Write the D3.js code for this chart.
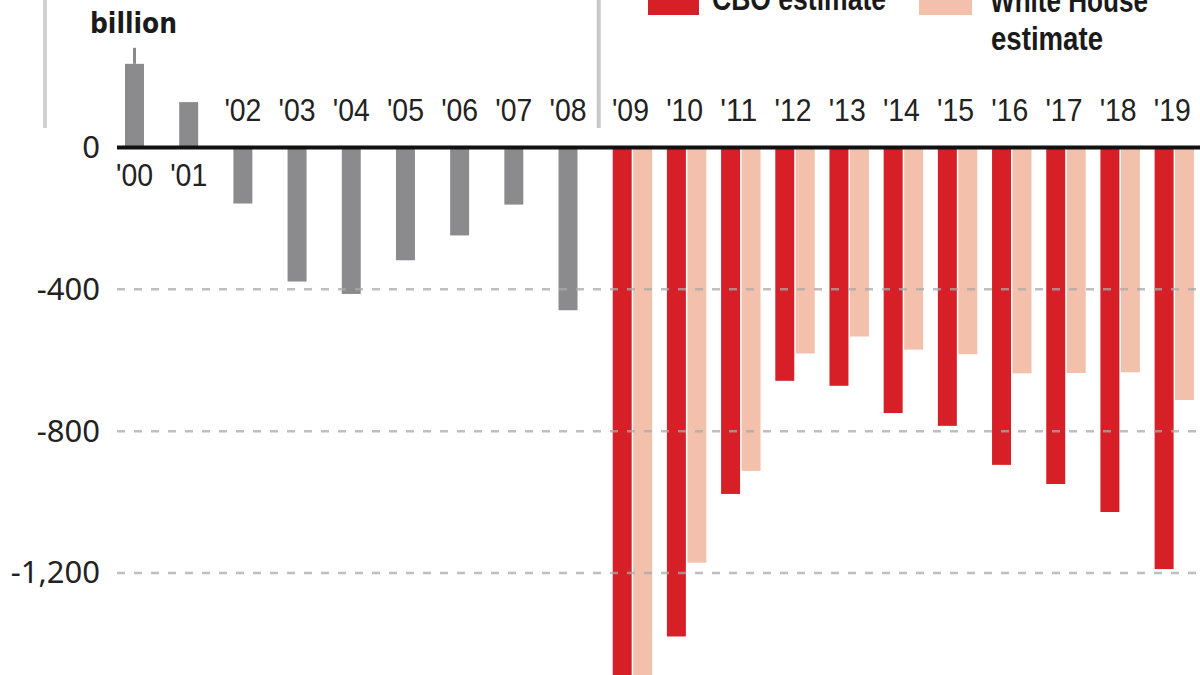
<!DOCTYPE html>
<html>
<head>
<meta charset="utf-8">
<script src="https://cdn.jsdelivr.net/npm/d3@7"></script>
<style>
  html, body { margin: 0; padding: 0; background: #fff; }
  svg { display: block; }
</style>
</head>
<body>
<div id="chart"></div>
<script>
// Budget balance, $ billion
const years = ["'00", "'01", "'02", "'03", "'04", "'05", "'06", "'07", "'08", "'09",
               "'10", "'11", "'12", "'13", "'14", "'15", "'16", "'17", "'18", "'19"];
const actualYears = years.slice(0, 9);
const actual = [236, 128, -158, -378, -413, -318, -248, -161, -459];
const estimateYears = years.slice(9);
const cboEstimate = [-1845, -1379, -977, -658, -672, -749, -785, -895, -949, -1028, -1189];
const whiteHouseEstimate = [-1752, -1171, -912, -581, -533, -570, -583, -637, -636, -634, -712];
const yTicks = [0, -400, -800, -1200];

const width = 1200;
const height = 675;

const colors = { actual: "#8b8b8d", cbo: "#d71f27", wh: "#f3c0ab" };
const narrow = "'Liberation Sans Narrow', 'Liberation Sans', Arial, sans-serif";

const svg = d3.select("#chart")
    .append("svg")
    .attr("width", width)
    .attr("height", height)
    .attr("viewBox", `0 0 ${width} ${height}`);

// Scales
const x = d3.scaleBand()
    .domain(years)
    .range([107.4, 1191.2])
    .paddingInner(0.65)
    .paddingOuter(0.325);

const bw = x.bandwidth();
const gap = 1.5;

const y = d3.scaleLinear()
    .domain([0, -1200])
    .range([147.5, 573]);

// Light vertical rules at the top
svg.append("line")
    .attr("x1", 45).attr("x2", 45)
    .attr("y1", 0).attr("y2", 128)
    .attr("stroke", "#d0d0d0")
    .attr("stroke-width", 4);

const divX = x("'09") - 14;
svg.append("line")
    .attr("x1", divX).attr("x2", divX)
    .attr("y1", 0).attr("y2", 128)
    .attr("stroke", "#c8c8c8")
    .attr("stroke-width", 4);

// Unit label
svg.append("text")
    .attr("x", 90)
    .attr("y", 33)
    .attr("textLength", 87)
    .attr("lengthAdjust", "spacingAndGlyphs")
    .style("font-family", "'DejaVu Sans', sans-serif")
    .style("font-weight", "bold")
    .style("font-size", "28px")
    .style("fill", "#1a1a1a")
    .text("billion");

// Legend
const legend = svg.append("g")
    .style("font-family", narrow)
    .style("font-weight", "bold")
    .style("font-size", "33px")
    .style("fill", "#1a1a1a");
legend.append("rect")
    .attr("x", 648).attr("y", -6)
    .attr("width", 51).attr("height", 21)
    .attr("fill", colors.cbo);
legend.append("text")
    .attr("x", 712).attr("y", 10)
    .attr("textLength", 174)
    .attr("lengthAdjust", "spacingAndGlyphs")
    .text("CBO estimate");
legend.append("rect")
    .attr("x", 919).attr("y", -6)
    .attr("width", 53).attr("height", 21)
    .attr("fill", colors.wh);
legend.append("text")
    .attr("x", 990).attr("y", 12)
    .attr("textLength", 158)
    .attr("lengthAdjust", "spacingAndGlyphs")
    .text("White House");
legend.append("text")
    .attr("x", 991).attr("y", 50)
    .attr("textLength", 112)
    .attr("lengthAdjust", "spacingAndGlyphs")
    .text("estimate");

// Y axis labels
const fmt = v => (v < 0 ? "-" : "") + d3.format(",")(Math.abs(v));
const yAxis = svg.append("g")
    .attr("transform", "translate(100,0)")
    .call(d3.axisLeft(y).tickValues(yTicks).tickSize(0).tickPadding(0).tickFormat(fmt));
yAxis.select(".domain").remove();
yAxis.selectAll("text")
    .style("font-family", "'Noto Sans', sans-serif")
    .style("font-size", "31px")
    .style("fill", "#222");

// Actual bars
svg.append("g")
    .selectAll("rect")
    .data(actual)
    .join("rect")
    .attr("x", (d, i) => x(actualYears[i]))
    .attr("width", bw)
    .attr("y", d => y(Math.max(0, d)))
    .attr("height", d => Math.abs(y(d) - y(0)))
    .attr("fill", colors.actual);

// small tick above the 2000 bar
svg.append("line")
    .attr("x1", x(actualYears[0]) + bw / 2)
    .attr("x2", x(actualYears[0]) + bw / 2)
    .attr("y1", y(actual[0]))
    .attr("y2", y(actual[0]) - 16)
    .attr("stroke", colors.actual)
    .attr("stroke-width", 3);

// CBO bars
svg.append("g")
    .selectAll("rect")
    .data(cboEstimate)
    .join("rect")
    .attr("x", (d, i) => x(estimateYears[i]))
    .attr("width", bw)
    .attr("y", y(0))
    .attr("height", d => y(d) - y(0))
    .attr("fill", colors.cbo);

// White House bars
svg.append("g")
    .selectAll("rect")
    .data(whiteHouseEstimate)
    .join("rect")
    .attr("x", (d, i) => x(estimateYears[i]) + bw + gap)
    .attr("width", bw)
    .attr("y", y(0))
    .attr("height", d => y(d) - y(0))
    .attr("fill", colors.wh);

// Dashed gridlines
svg.append("g")
    .selectAll("line")
    .data(yTicks.filter(d => d !== 0))
    .join("line")
    .attr("x1", 117)
    .attr("x2", width)
    .attr("y1", d => y(d))
    .attr("y2", d => y(d))
    .attr("stroke", "#aaa")
    .attr("stroke-width", 2.5)
    .attr("stroke-dasharray", "8,9")
    .attr("opacity", 0.75);

// Zero line
svg.append("line")
    .attr("x1", 117)
    .attr("x2", width)
    .attr("y1", y(0))
    .attr("y2", y(0))
    .attr("stroke", "#111")
    .attr("stroke-width", 4);

// Year labels
svg.append("g")
    .selectAll("text")
    .data(actual)
    .join("text")
    .attr("x", (d, i) => x(actualYears[i]) + bw / 2)
    .attr("y", d => d > 0 ? 186 : 121)
    .attr("text-anchor", "middle")
    .attr("textLength", 37)
    .attr("lengthAdjust", "spacingAndGlyphs")
    .style("font-family", narrow)
    .style("font-size", "31px")
    .style("fill", "#222")
    .text((d, i) => actualYears[i]);

svg.append("g")
    .selectAll("text")
    .data(estimateYears)
    .join("text")
    .attr("x", d => x(d) + bw + gap / 2 - 2)
    .attr("y", 121)
    .attr("text-anchor", "middle")
    .attr("textLength", 37)
    .attr("lengthAdjust", "spacingAndGlyphs")
    .style("font-family", narrow)
    .style("font-size", "31px")
    .style("fill", "#222")
    .text(d => d);
</script>
</body>
</html>
